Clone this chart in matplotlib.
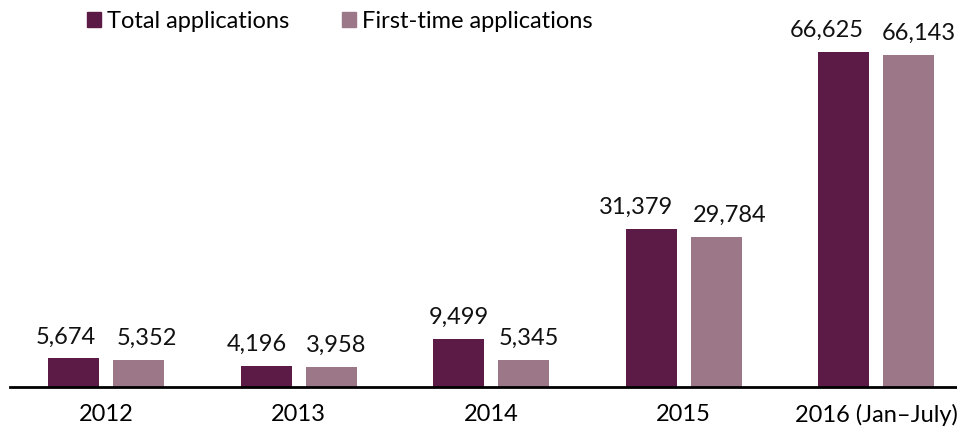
import matplotlib
matplotlib.use("Agg")
from matplotlib import pyplot as plt
from matplotlib.patches import Patch
import numpy as np

plt.rcParams['font.family'] = ['Lato', 'DejaVu Sans']

categories = ['2012', '2013', '2014', '2015', '2016 (Jan\u2013July)']
total_apps = [5674, 4196, 9499, 31379, 66625]
first_time_apps = [5352, 3958, 5345, 29784, 66143]

dark = '#5C1A46'
light = '#9B7787'

# label nudges (px) so neighbouring value labels don't collide
dark_shift = [-8, -10, 0, -15, -17]
light_shift = [8, 5, 5, 14, 10]

fig = plt.figure(figsize=(9.57, 4.29), dpi=100)
ax = fig.add_axes([10/957, 42/429, 1 - 10/957, 1 - 42/429])

x = np.arange(len(categories))
w = 0.265
b1 = ax.bar(x - 0.168, total_apps, w, color=dark)
b2 = ax.bar(x + 0.168, first_time_apps, w, color=light)

for bars, vals, shifts in ((b1, total_apps, dark_shift), (b2, first_time_apps, light_shift)):
	for r, v, s in zip(bars, vals, shifts):
		ax.annotate(f'{v:,}', (r.get_x() + r.get_width()/2, v), xytext=(s*0.72, 8),
			textcoords='offset points', ha='center', va='bottom', fontsize=17, color='#111111')

ax.set_xlim(-0.5, 4.42)
ax.set_ylim(0, 77000)
ax.set_yticks([])
ax.set_xticks(x)
ax.set_xticklabels(categories, fontsize=17)
ax.tick_params(axis='x', length=0, pad=12)
for s in ['top', 'right', 'left']:
	ax.spines[s].set_visible(False)
ax.spines['bottom'].set_linewidth(2)

handles = [Patch(color=dark, label='Total applications'), Patch(color=light, label='First-time applications')]
fig.legend(handles=handles, loc='upper left', bbox_to_anchor=(66/957, 1.025), ncol=2, frameon=False,
	fontsize=17, handlelength=0.6, handleheight=0.6, handletextpad=0.25, columnspacing=2.2)

fig.savefig('out.png', dpi=100)
